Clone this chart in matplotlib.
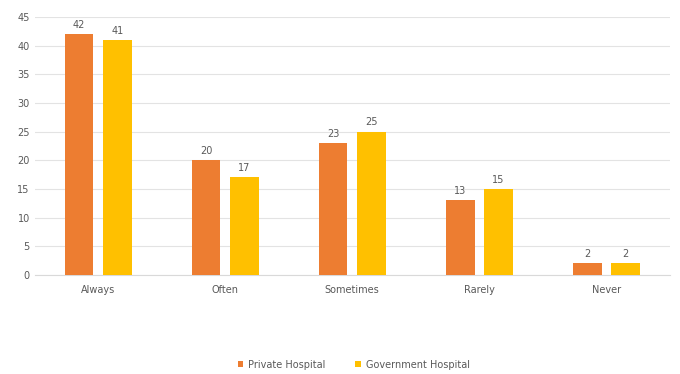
import numpy as np
import matplotlib.pyplot as plt

categories = ['Always', 'Often', 'Sometimes', 'Rarely', 'Never']
private = [42, 20, 23, 13, 2]
government = [41, 17, 25, 15, 2]
series_names = ['Private Hospital', 'Government Hospital']

orange = '#ED7D31'
gold = '#FFC000'
txt = '#595959'

fig = plt.figure(figsize=(6.8, 3.74), dpi=100)
ax = fig.add_axes([0.051, 0.265, 0.934, 0.69])

x = np.arange(len(categories))
w = 0.225
b1 = ax.bar(x - 0.15, private, w, color=orange, label=series_names[0], zorder=3)
b2 = ax.bar(x + 0.15, government, w, color=gold, label=series_names[1], zorder=3)

for bars in (b1, b2):
    ax.bar_label(bars, padding=3, fontsize=7, color=txt)

ax.set_xlim(-0.5, len(categories) - 0.5)
ax.set_ylim(0, 45)
ax.set_yticks(range(0, 46, 5))
ax.set_xticks(x)
ax.set_xticklabels(categories)
ax.tick_params(axis='both', length=0, labelsize=7, colors=txt)
ax.tick_params(axis='x', pad=7)
ax.grid(axis='y', color='#E3E3E3', linewidth=0.8, zorder=0)
for s in ['top', 'right', 'left']:
    ax.spines[s].set_visible(False)
ax.spines['bottom'].set_color('#D9D9D9')

fig.legend(loc='lower center', bbox_to_anchor=(0.52, -0.012), ncol=2, frameon=False,
           fontsize=7, labelcolor=txt, handlelength=0.6, handleheight=0.6,
           columnspacing=3.0, handletextpad=0.5)

fig.savefig('out.png', dpi=100, facecolor='white')
